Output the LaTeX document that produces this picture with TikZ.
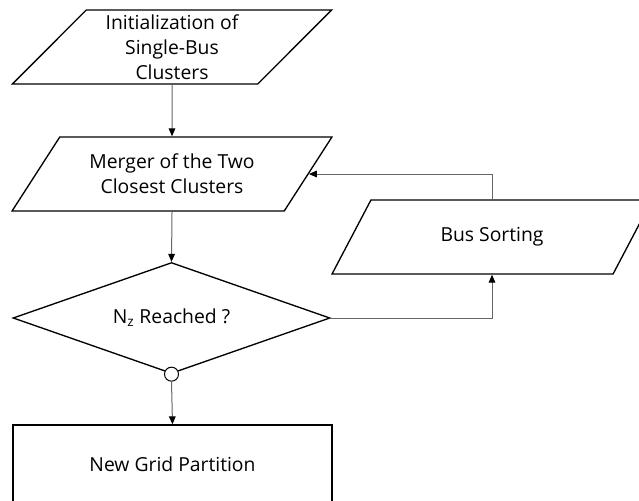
\documentclass[tikz,border=0pt]{standalone}
\usepackage{fontspec}
\setmainfont{Open Sans}
\usetikzlibrary{shapes.geometric,arrows.meta}

\begin{document}
\begin{tikzpicture}[x=0.75pt,y=-0.75pt,font=\fontsize{14.5}{18.75}\selectfont,
  io/.style={trapezium, trapezium left angle=48.7, trapezium right angle=131.3,
    trapezium stretches=true, draw, line width=1pt, minimum width=240pt,
    minimum height=55.5pt, inner sep=0pt, align=center},
  link/.style={black!60, line width=0.75pt, -{Triangle[length=6pt,width=5pt,color=black]}}]
  \useasboundingbox (0,0) rectangle (639,500);

  \node [io] (init) at (172,47) {Initialization of\\Single-Bus\\Clusters};
  \node [io] (merger) at (172,174) {Merger of the Two\\Closest Clusters};
  \node [io] (bus) at (492,237) {Bus Sorting};
  \node [diamond, draw, line width=1pt, aspect=2.86, inner sep=0pt,
    minimum width=237.75pt, minimum height=83.25pt] (test) at (171.5,318) {N\textsubscript{z} Reached ?};
  \node [circle, draw, fill=white, line width=0.75pt, minimum size=10.5pt,
    inner sep=0pt] (knot) at (test.south) {};
  \node [rectangle, draw, line width=1pt, minimum width=239.25pt,
    minimum height=59.25pt] (part) at (172.5,464.5) {New Grid Partition};

  \draw [link] (init.south) -- (merger.north);
  \draw [link] (merger.south) -- (test.north);
  \draw [link] (knot.south) -- (part.north);
  \draw [link] (test.east) -| (bus.south);
  \draw [link] (bus.north) |- (merger.east);

\end{tikzpicture}
\end{document}
